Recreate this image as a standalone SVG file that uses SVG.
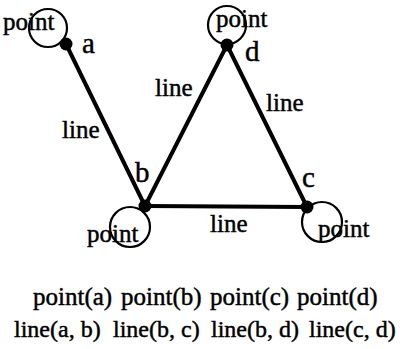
<svg xmlns="http://www.w3.org/2000/svg" width="400" height="349" viewBox="0 0 400 349">
<style>
text{font-family:"Liberation Serif","Times New Roman",serif;fill:#000;stroke:#000;stroke-width:0.45}
.lbl{font-size:25px}
.name{font-size:29px}
.edge{stroke:#000;stroke-width:4;stroke-linecap:round;fill:none}
.loop{stroke:#000;stroke-width:2.2;fill:none}
.dot{fill:#000}
.formula{font-size:25px}
.formula2{font-size:24px}
</style>
<rect width="400" height="349" fill="#fff"/>
<g id="connectors">
<line class="edge" x1="66" y1="44" x2="145" y2="206"/>
<line class="edge" x1="145" y1="206" x2="227" y2="45"/>
<line class="edge" x1="227" y1="45" x2="307" y2="207"/>
<line class="edge" x1="145" y1="206" x2="307" y2="207"/>
<text class="lbl" x="62" y="138">line</text>
<text class="lbl" x="155" y="96">line</text>
<text class="lbl" x="266" y="111">line</text>
<text class="lbl" x="210" y="232">line</text>
</g>
<g id="node-a">
<circle class="loop" cx="48" cy="28" r="19"/>
<circle class="dot" cx="66" cy="44" r="6.5"/>
<text class="lbl" x="3" y="30">point</text>
<text class="name" x="82" y="53">a</text>
</g>
<g id="node-b">
<circle class="loop" cx="130" cy="227" r="20"/>
<circle class="dot" cx="145" cy="206" r="6.5"/>
<text class="lbl" x="87" y="242">point</text>
<text class="name" x="135" y="182">b</text>
</g>
<g id="node-c">
<circle class="loop" cx="322" cy="222" r="20"/>
<circle class="dot" cx="307" cy="207" r="6.5"/>
<text class="lbl" x="318" y="237">point</text>
<text class="name" x="302" y="187">c</text>
</g>
<g id="node-d">
<circle class="loop" cx="227" cy="25" r="19"/>
<circle class="dot" cx="227" cy="45" r="6.5"/>
<text class="lbl" x="216" y="27">point</text>
<text class="name" x="245" y="61">d</text>
</g>
<g id="formulas">
<text class="formula" x="33" y="305">point(a)</text>
<text class="formula" x="121" y="305">point(b)</text>
<text class="formula" x="210" y="305">point(c)</text>
<text class="formula" x="297" y="305">point(d)</text>
<text class="formula2" x="14" y="337">line(a, b)</text>
<text class="formula2" x="113" y="337">line(b, c)</text>
<text class="formula2" x="211" y="337">line(b, d)</text>
<text class="formula2" x="309" y="337">line(c, d)</text>
</g>
</svg>
